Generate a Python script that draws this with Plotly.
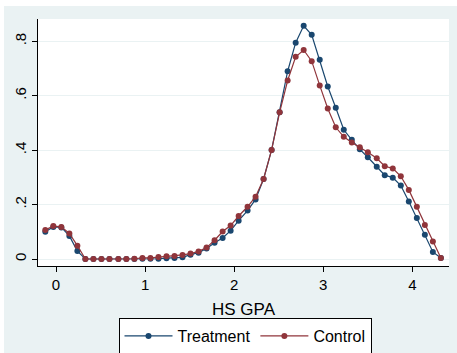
import plotly.graph_objects as go

gpa = [-0.12, -0.03, 0.06, 0.15, 0.24, 0.33, 0.42, 0.51, 0.60, 0.70,
       0.79, 0.88, 0.97, 1.06, 1.15, 1.24, 1.33, 1.42, 1.51, 1.60,
       1.69, 1.78, 1.87, 1.96, 2.05, 2.15, 2.24, 2.33, 2.42, 2.51,
       2.60, 2.69, 2.78, 2.87, 2.96, 3.05, 3.14, 3.23, 3.32, 3.41,
       3.50, 3.60, 3.69, 3.78, 3.87, 3.96, 4.05, 4.14, 4.23, 4.32]

treatment = [0.100, 0.118, 0.116, 0.085, 0.029, 0.0, 0.0, 0.0, 0.0, 0.0,
             0.0, 0.0, 0.001, 0.001, 0.001, 0.003, 0.004, 0.006, 0.016, 0.023,
             0.039, 0.060, 0.077, 0.104, 0.141, 0.178, 0.219, 0.294, 0.401, 0.539,
             0.690, 0.795, 0.857, 0.824, 0.732, 0.634, 0.556, 0.475, 0.438, 0.403,
             0.374, 0.339, 0.308, 0.299, 0.270, 0.211, 0.151, 0.089, 0.026, 0.004]

control = [0.107, 0.121, 0.118, 0.094, 0.049, 0.0, 0.0, 0.0, 0.0, 0.0,
           0.0, 0.001, 0.004, 0.004, 0.007, 0.010, 0.011, 0.015, 0.020, 0.028,
           0.042, 0.069, 0.101, 0.123, 0.158, 0.192, 0.229, 0.294, 0.401, 0.539,
           0.656, 0.743, 0.768, 0.727, 0.638, 0.553, 0.484, 0.449, 0.428, 0.411,
           0.392, 0.370, 0.341, 0.333, 0.304, 0.254, 0.192, 0.125, 0.064, 0.004]

x_ticks = [0, 1, 2, 3, 4]
y_ticks = [0, 0.2, 0.4, 0.6, 0.8]
y_labels = ["0", ".2", ".4", ".6", ".8"]

NAVY = "#1A476F"
MAROON = "#90353B"
BG = "#EAF2F3"

fig = go.Figure()
fig.add_trace(go.Scatter(x=gpa, y=treatment, mode="lines+markers", name="Treatment",
                         line=dict(color=NAVY, width=1.2),
                         marker=dict(color=NAVY, size=6)))
fig.add_trace(go.Scatter(x=gpa, y=control, mode="lines+markers", name="Control",
                         line=dict(color=MAROON, width=1.2),
                         marker=dict(color=MAROON, size=6)))

W, H = 411, 247
font = "Liberation Sans, Arial, sans-serif"
fig.update_layout(
    width=457, height=353,
    margin=dict(l=38, r=8, t=19, b=87, autoexpand=False),
    paper_bgcolor=BG, plot_bgcolor="white",
    font=dict(family=font, size=14, color="black"),
    showlegend=True,
    legend=dict(orientation="h", x=(245 - 38) / W, xanchor="center",
                y=(266 - 318) / H, yanchor="top",
                bgcolor="white", bordercolor="black", borderwidth=1,
                font=dict(size=16), itemwidth=48, tracegroupgap=0),
    xaxis=dict(range=[-0.202, 4.411], tickvals=x_ticks, ticks="outside", ticklen=5,
               tickcolor="black", showgrid=False, zeroline=False,
               showline=True, linecolor="black", linewidth=1,
               tickfont=dict(size=15),
               title=dict(text="HS GPA", font=dict(size=17), standoff=11)),
    yaxis=dict(range=[-0.0257, 0.882], tickvals=y_ticks, ticktext=y_labels,
               ticks="outside", ticklen=5, tickcolor="black", tickangle=-90,
               showgrid=True, gridcolor=BG, gridwidth=1, zeroline=False,
               showline=True, linecolor="black", linewidth=1,
               tickfont=dict(size=15)),
)
# white strips at very top and left of the image
fig.add_shape(type="rect", xref="paper", yref="paper",
              x0=-40 / W, x1=421 / W, y0=(266 - 6) / H, y1=(266 + 2) / H,
              fillcolor="white", line=dict(width=0), layer="below")
fig.add_shape(type="rect", xref="paper", yref="paper",
              x0=-40 / W, x1=-34 / W, y0=(266 - 355) / H, y1=(266 + 2) / H,
              fillcolor="white", line=dict(width=0), layer="below")

fig.write_html("out.html")
